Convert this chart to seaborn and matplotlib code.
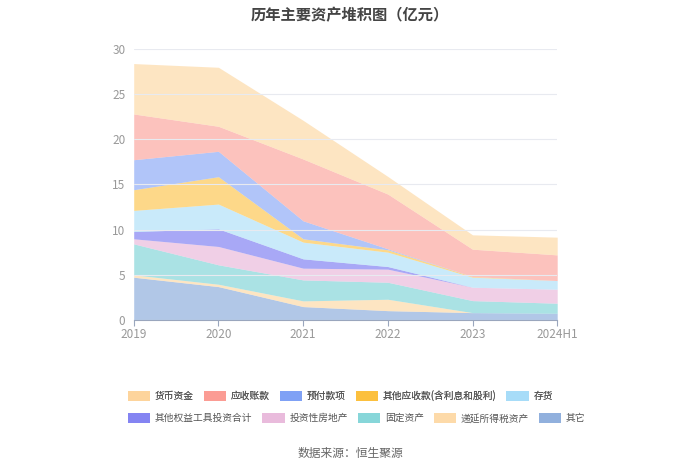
import numpy as np
import pandas as pd
import matplotlib
matplotlib.use("Agg")
import matplotlib.pyplot as plt
from matplotlib.patches import Patch
import seaborn as sns

# data (亿元), bottom of stack first
years = ["2019", "2020", "2021", "2022", "2023", "2024H1"]
other = [4.73, 3.69, 1.48, 1.03, 0.81, 0.74]
deferred_tax = [0.26, 0.26, 0.63, 1.26, 0.0, 0.0]
fixed_assets = [3.43, 2.15, 2.32, 1.88, 1.33, 1.11]
invest_property = [0.56, 2.03, 1.30, 1.45, 1.48, 1.55]
other_equity = [0.81, 1.95, 1.03, 0.29, 0.0, 0.0]
inventory = [2.33, 2.74, 1.85, 1.59, 1.11, 0.96]
other_recv = [2.29, 3.03, 0.37, 0.26, 0.07, 0.0]
prepay = [3.32, 2.81, 1.99, 0.11, 0.0, 0.0]
recv = [5.06, 2.77, 6.84, 6.06, 3.03, 2.84]
cash = [5.58, 6.53, 4.28, 1.95, 1.59, 1.96]

# legend order (top of stack first)
legend_names = ["货币资金", "应收账款", "预付款项", "其他应收款(含利息和股利)", "存货",
                "其他权益工具投资合计", "投资性房地产", "固定资产", "递延所得税资产", "其它"]
legend_colors = ["#fdd49a", "#fb9a92", "#7d9ff5", "#fcbf3a", "#a6dcf8",
                 "#6e6ef0", "#e6b0d6", "#72cfd3", "#fdd49a", "#7ea3d8"]

df = pd.DataFrame({
    "其它": other, "递延所得税资产": deferred_tax, "固定资产": fixed_assets,
    "投资性房地产": invest_property, "其他权益工具投资合计": other_equity,
    "存货": inventory, "其他应收款(含利息和股利)": other_recv, "预付款项": prepay,
    "应收账款": recv, "货币资金": cash,
}, index=years)

sns.set_style("white")
plt.rcParams['font.family'] = ['Noto Sans CJK SC', 'DejaVu Sans']

fig = plt.figure(figsize=(7, 4.74), dpi=100)
ax = fig.add_axes([0.191, 0.325, 0.605, 0.572])

color_map = dict(zip(legend_names, legend_colors))
x = np.arange(len(years))
ax.stackplot(x, *[df[c].values for c in df.columns],
             colors=[color_map[c] for c in df.columns], alpha=0.6, linewidth=0)

ax.set_xlim(0, len(years) - 1)
ax.set_ylim(0, 30)
ax.set_yticks([0, 5, 10, 15, 20, 25, 30])
ax.set_xticks(x)
ax.set_xticklabels(years)
ax.yaxis.grid(True, color="#e8eaf0", linewidth=0.8)
ax.set_axisbelow(False)
for s in ["top", "right", "left"]:
    ax.spines[s].set_visible(False)
ax.spines["bottom"].set_color("#9aa6bd")
ax.tick_params(axis="x", colors="#9aa6bd", length=4, width=0.8, labelcolor="#999999",
               labelsize=8.5, pad=2, bottom=True)
ax.tick_params(axis="y", length=0, labelcolor="#999999", labelsize=8.5, pad=6)
ax.set_xlabel("")
ax.set_ylabel("")

fig.suptitle("历年主要资产堆积图（亿元）", x=0.5, y=0.985, fontsize=11,
             fontweight="bold", color="#444444")

handles = [Patch(facecolor=c, edgecolor="none", alpha=0.85) for c in legend_colors]
leg_kw = dict(loc="center left", ncol=5, frameon=False, fontsize=7,
              handlelength=2.3, handleheight=1.2, handletextpad=0.5,
              columnspacing=1.0, labelcolor="#555555")
leg1 = fig.legend(handles[:5], legend_names[:5], bbox_to_anchor=(0.17, 0.1646), **leg_kw)
leg2 = fig.legend(handles[5:], legend_names[5:], bbox_to_anchor=(0.17, 0.118), **leg_kw)
fig.add_artist(leg1)

fig.text(0.5, 0.035, "数据来源：恒生聚源", ha="center", fontsize=8.5, color="#666666")

fig.savefig("out.png", dpi=100)
